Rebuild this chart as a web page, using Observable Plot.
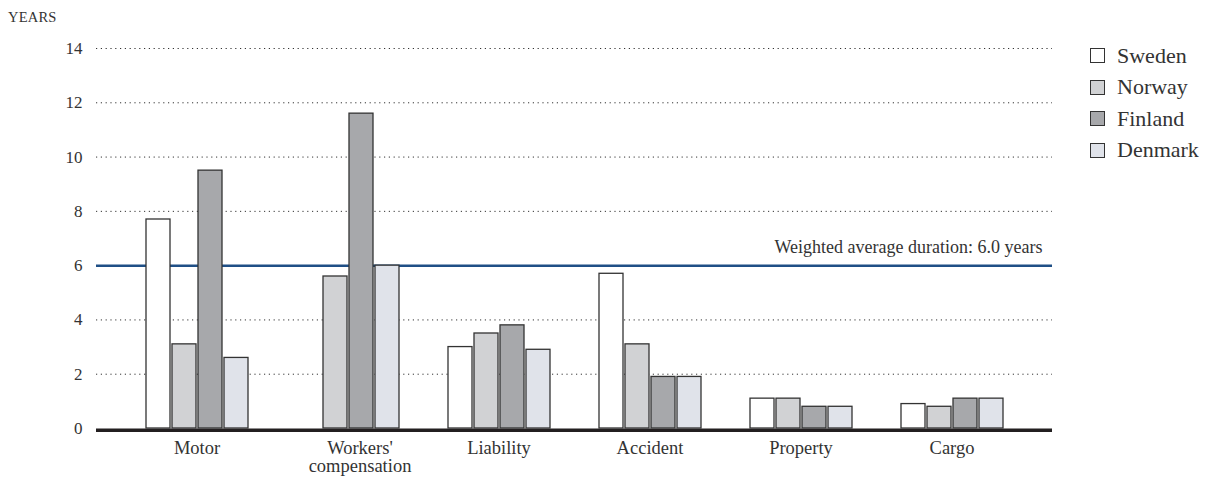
<!DOCTYPE html>
<html>
<head>
<meta charset="utf-8">
<script src="https://cdn.jsdelivr.net/npm/d3@7"></script>
<script src="https://cdn.jsdelivr.net/npm/@observablehq/plot@0.6"></script>
<style>
  body { margin: 0; background: #fff; font-family: "Liberation Serif", serif; color: #333; }
  #wrap { position: relative; width: 1212px; height: 477px; }
  #wrap svg { position: absolute; left: 0; top: 0; }
  #unit { position: absolute; left: 8px; top: 9px; font-size: 14.5px; letter-spacing: 0.2px; }
  #legend { position: absolute; left: 1090px; top: 40px; }
  .row { display: flex; align-items: center; height: 31.5px; font-size: 22px; }
  .sw { width: 13px; height: 13px; border: 1.3px solid #333; margin-right: 12px; }
</style>
</head>
<body>
<div id="wrap">
  <div id="unit">YEARS</div>
  <div id="legend"></div>
</div>
<script>
// Lines of business, in display order
const categories = ["Motor", "Workers' compensation", "Liability", "Accident", "Property", "Cargo"];
const countries = ["Sweden", "Norway", "Finland", "Denmark"];
const countryFills = ["#ffffff", "#d1d2d4", "#a7a8ab", "#e0e3ea"];

// Duration in years per line of business (null = no business written)
const sweden  = [7.7, null, 3.0, 5.7, 1.1, 0.9];
const norway  = [3.1, 5.6, 3.5, 3.1, 1.1, 0.8];
const finland = [9.5, 11.6, 3.8, 1.9, 0.8, 1.1];
const denmark = [2.6, 6.0, 2.9, 1.9, 0.8, 1.1];

const weightedAverage = 6.0;
const averageLabel = "Weighted average duration: 6.0 years";
const yTicks = [0, 2, 4, 6, 8, 10, 12, 14];
const gridTicks = [2, 4, 6, 8, 10, 12, 14];
const categoryLabels = {"Workers' compensation": "Workers'\ncompensation"};

const series = [sweden, norway, finland, denmark];
const rows = categories.flatMap((c, i) =>
  countries.map((k, j) => ({category: c, country: k, value: series[j][i]}))
).filter(d => d.value != null);

// groups with a missing bar get their label centred over the bars that are drawn
const partialGroups = categories.filter((c, i) => series.some(s => s[i] == null));
const fullGroups = categories.filter(c => !partialGroups.includes(c));

// shared frame for both layers
const frame = {
  width: 1212,
  height: 477,
  marginTop: 48,
  marginBottom: 49,
  marginLeft: 96,
  marginRight: 160,
  style: {fontFamily: "'Liberation Serif', serif", color: "#333", background: "transparent"}
};

// back layer: grid, average line, y axis and baseline, spanning the whole frame
const back = Plot.plot({
  ...frame,
  y: {domain: [0, 14]},
  marks: [
    Plot.ruleY(gridTicks, {stroke: "#333", strokeWidth: 1, strokeDasharray: "1.2,3.6"}),
    Plot.ruleY([weightedAverage], {stroke: "#1f4f86", strokeWidth: 2.5}),
    Plot.text([averageLabel], {
      y: [weightedAverage], text: d => d,
      frameAnchor: "right", textAnchor: "end", dx: -10, dy: -18, fontSize: 18, fill: "#333"
    }),
    Plot.axisY({ticks: yTicks, tickSize: 0, tickPadding: 14, fontSize: 17, label: null, tickFormat: d => String(d)}),
    Plot.ruleY([0], {stroke: "#231f20", strokeWidth: 3.5, dy: 1.8})
  ]
});

// front layer: grouped bars faceted by line of business
const axisStyle = {
  anchor: "bottom", tickSize: 0, tickPadding: 12, fontSize: 18.5, label: null,
  tickFormat: d => categoryLabels[d] ?? d
};
const front = Plot.plot({
  ...frame,
  fx: {domain: categories, paddingInner: 0.318, paddingOuter: 0.324, label: null, axis: null},
  x: {domain: countries, paddingInner: 0.085, paddingOuter: 0, axis: null},
  y: {domain: [0, 14], axis: null},
  color: {domain: countries, range: countryFills},
  marks: [
    Plot.barY(rows, {fx: "category", x: "country", y: "value", fill: "country", stroke: "#333", strokeWidth: 1.3}),
    Plot.axisFx({...axisStyle, ticks: fullGroups}),
    Plot.axisFx({...axisStyle, ticks: partialGroups, dx: 12})
  ]
});

const wrap = document.getElementById("wrap");
wrap.prepend(back);
back.after(front);

// legend
const legend = document.getElementById("legend");
countries.forEach((k, i) => {
  const row = document.createElement("div");
  row.className = "row";
  const sw = document.createElement("div");
  sw.className = "sw";
  sw.style.background = countryFills[i];
  const label = document.createElement("span");
  label.textContent = k;
  row.append(sw, label);
  legend.append(row);
});
</script>
</body>
</html>
